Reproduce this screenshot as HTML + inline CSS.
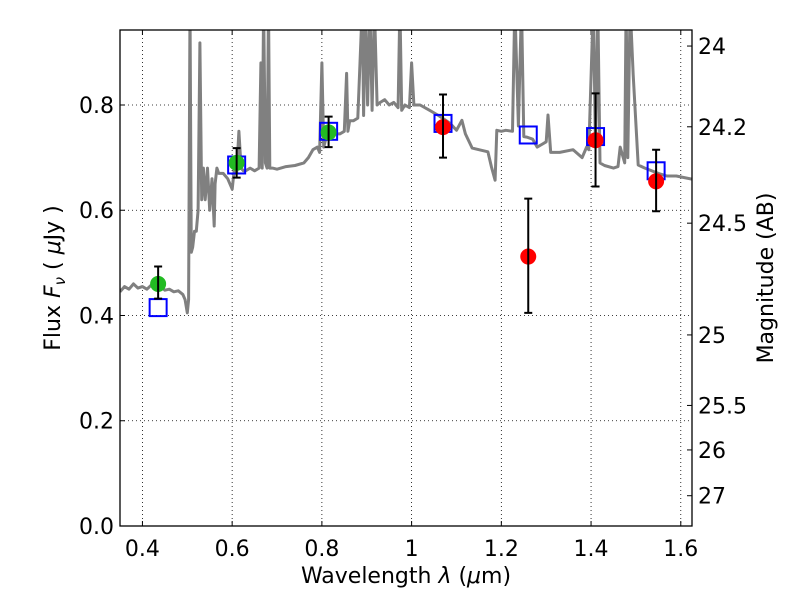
<!DOCTYPE html>
<html><head><meta charset="utf-8"><style>
body{margin:0;background:#fff;}
svg text{font-family:"DejaVu Sans","Liberation Sans",sans-serif;fill:#000;}
</style></head><body>
<svg id="chart" width="800" height="600" xmlns="http://www.w3.org/2000/svg"></svg>
<script>
const xTicks=[0.4,0.6,0.8,1.0,1.2,1.4,1.6];
const xTickLabels=["0.4","0.6","0.8","1","1.2","1.4","1.6"];
const yTicks=[0,0.2,0.4,0.6,0.8];
const yTickLabels=["0.0","0.2","0.4","0.6","0.8"];
const magTicks=[24,24.2,24.5,25,25.5,26,27];
const magTickLabels=["24","24.2","24.5","25","25.5","26","27"];
const specLambda=[0.35,0.36,0.37,0.38,0.39,0.40,0.41,0.42,0.43,0.44,0.45,0.46,0.47,0.48,0.49,0.495,0.50,0.503,0.506,0.509,0.512,0.516,0.52,0.524,0.528,0.532,0.536,0.54,0.545,0.55,0.555,0.56,0.562,0.566,0.57,0.58,0.59,0.60,0.605,0.61,0.615,0.62,0.625,0.63,0.64,0.65,0.66,0.664,0.667,0.670,0.674,0.678,0.681,0.684,0.69,0.70,0.72,0.74,0.76,0.77,0.78,0.79,0.795,0.80,0.804,0.81,0.82,0.83,0.84,0.85,0.855,0.858,0.862,0.87,0.88,0.89,0.893,0.897,0.902,0.907,0.912,0.917,0.923,0.93,0.94,0.95,0.96,0.97,0.974,0.978,0.985,0.995,1.0,1.005,1.019,1.04,1.06,1.086,1.10,1.112,1.12,1.135,1.15,1.17,1.178,1.186,1.19,1.20,1.21,1.225,1.23,1.238,1.245,1.25,1.257,1.27,1.28,1.29,1.30,1.304,1.31,1.33,1.36,1.38,1.39,1.395,1.405,1.41,1.415,1.42,1.43,1.45,1.46,1.465,1.475,1.478,1.482,1.487,1.494,1.505,1.52,1.55,1.569,1.59,1.625];
const specFlux=[0.445,0.455,0.45,0.46,0.452,0.455,0.45,0.458,0.45,0.455,0.448,0.45,0.445,0.447,0.44,0.43,0.405,0.43,0.99,0.52,0.53,0.56,0.56,0.6,0.918,0.62,0.68,0.62,0.68,0.6,0.66,0.57,0.65,0.68,0.67,0.67,0.66,0.64,0.68,0.67,0.75,0.68,0.675,0.675,0.68,0.675,0.68,0.88,0.68,0.99,0.69,0.68,0.99,0.68,0.68,0.678,0.683,0.685,0.69,0.70,0.715,0.72,0.71,0.88,0.72,0.74,0.74,0.745,0.745,0.75,0.86,0.75,0.77,0.77,0.775,0.99,0.78,0.99,0.80,0.99,0.79,0.99,0.80,0.805,0.81,0.80,0.805,0.795,0.99,0.79,0.80,0.795,0.88,0.80,0.80,0.79,0.78,0.765,0.752,0.771,0.745,0.718,0.715,0.711,0.682,0.657,0.752,0.75,0.752,0.75,0.99,0.76,0.99,0.74,0.739,0.735,0.72,0.725,0.73,0.781,0.71,0.71,0.715,0.70,0.72,0.715,0.99,0.72,0.99,0.69,0.685,0.68,0.683,0.72,0.69,0.99,0.70,0.99,0.857,0.686,0.68,0.67,0.665,0.665,0.659];
const photLambda=[0.435,0.61,0.815,1.07,1.26,1.41,1.545];
const photFlux=[0.46,0.69,0.748,0.758,0.512,0.733,0.655];
const photErrLo=[0.432,0.662,0.72,0.70,0.405,0.645,0.598];
const photErrHi=[0.493,0.718,0.778,0.82,0.622,0.822,0.715];
const photColor=["#22bb22","#22bb22","#22bb22","#ff0000","#ff0000","#ff0000","#ff0000"];
const modelFlux=[0.415,0.686,0.75,0.765,0.743,0.74,0.675];

const L=120,R=692,T=30,B=526,xmin=0.35,xmax=1.625,ymin=0,ymax=0.9425;
const X=v=>L+(v-xmin)/(xmax-xmin)*(R-L);
const Y=v=>B-(v-ymin)/(ymax-ymin)*(B-T);
const svg=document.getElementById('chart');
const NS="http://www.w3.org/2000/svg";
function el(tag,attrs,parent){const e=document.createElementNS(NS,tag);for(const k in attrs)e.setAttribute(k,attrs[k]);(parent||svg).appendChild(e);return e;}
const defs=el('defs',{});const cp=el('clipPath',{id:'clip'},defs);el('rect',{x:L,y:T,width:R-L,height:B-T},cp);

xTicks.forEach((t,i)=>{
 const g=el('line',{x1:X(t),x2:X(t),y1:T,y2:B,stroke:'#000','stroke-width':0.8,'stroke-dasharray':'1,3'});
 
 el('line',{x1:X(t),x2:X(t),y1:B,y2:B-5,stroke:'#000'});el('line',{x1:X(t),x2:X(t),y1:T,y2:T+5,stroke:'#000'});
 const tx=el('text',{x:X(t),y:B+30,'font-size':22,'text-anchor':'middle'});tx.textContent=xTickLabels[i];
 
});
yTicks.forEach((t,i)=>{
 const g=el('line',{x1:L,x2:R,y1:Y(t),y2:Y(t),stroke:'#000','stroke-width':0.8,'stroke-dasharray':'1,3'});
 
 el('line',{x1:L,x2:L+5,y1:Y(t),y2:Y(t),stroke:'#000'});
 const tx=el('text',{x:L-6,y:Y(t)+8,'font-size':22,'text-anchor':'end'});tx.textContent=yTickLabels[i];
 
});
magTicks.forEach((m,i)=>{
 const f=Math.pow(10,(23.9-m)/2.5);
 el('line',{x1:R,x2:R-5,y1:Y(f),y2:Y(f),stroke:'#000'});
 const tx=el('text',{x:R+6,y:Y(f)+8,'font-size':22});tx.textContent=magTickLabels[i];
 
});
let d='';specLambda.forEach((l,i)=>{d+=(i?'L':'M')+X(l).toFixed(1)+','+Y(specFlux[i]).toFixed(1);});
const sp=el('path',{d:d,fill:'none',stroke:'#808080','stroke-width':3,'stroke-linejoin':'round','clip-path':'url(#clip)'});

photLambda.forEach((l,i)=>{
 const sq=el('rect',{x:X(l)-8.5,y:Y(modelFlux[i])-8.5,width:17,height:17,fill:'none',stroke:'#0000ff','stroke-width':2});
 
});
photLambda.forEach((l,i)=>{
 const c=el('circle',{cx:X(l),cy:Y(photFlux[i]),r:8,fill:photColor[i]});
 
 const e=el('path',{d:`M${X(l)},${Y(photErrLo[i])}V${Y(photErrHi[i])}M${X(l)-4},${Y(photErrLo[i])}h8M${X(l)-4},${Y(photErrHi[i])}h8`,stroke:'#000','stroke-width':2,fill:'none'});
 
});
const fr=el('rect',{x:L,y:T,width:R-L,height:B-T,fill:'none',stroke:'#000','stroke-width':1.3});

</script>
<svg style="position:absolute;left:0;top:0" width="800" height="600" xmlns="http://www.w3.org/2000/svg">
<text x="406" y="583" font-size="22" text-anchor="middle">Wavelength  <tspan font-style="italic">λ</tspan> (<tspan font-style="italic">μ</tspan>m)</text>
<text transform="translate(60,278) rotate(-90)" font-size="22" text-anchor="middle">Flux  <tspan font-style="italic">F</tspan><tspan font-style="italic" font-size="15" dy="5">ν</tspan><tspan dy="-5">  ( </tspan><tspan font-style="italic">μ</tspan>Jy )</text>
<text transform="translate(773,278) rotate(-90)" font-size="22" text-anchor="middle">Magnitude (AB)</text>
</svg>
</body></html>
